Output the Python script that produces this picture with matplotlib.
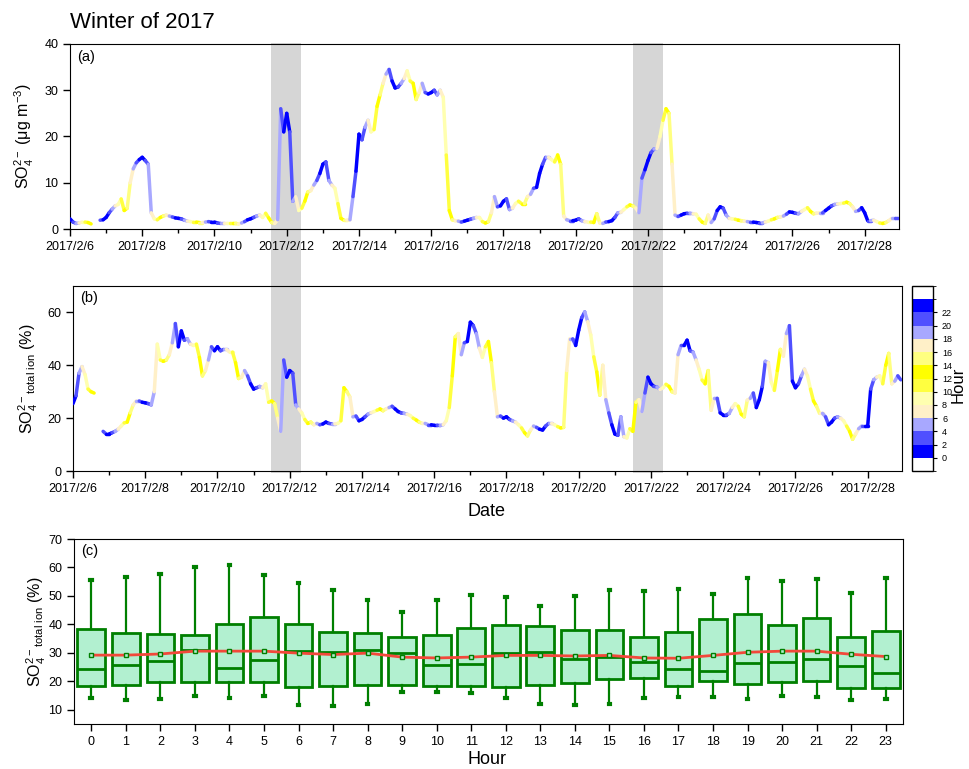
import numpy as np
import pandas as pd
import matplotlib
matplotlib.use('Agg')
import matplotlib.pyplot as plt
import matplotlib.dates as mdates
import matplotlib.cm as cm
from matplotlib.collections import LineCollection
from matplotlib.colors import ListedColormap, BoundaryNorm
from matplotlib.patches import Rectangle
from matplotlib.ticker import FuncFormatter
from matplotlib.transforms import blended_transform_factory

plt.rcParams['font.family'] = ['Liberation Sans', 'DejaVu Sans']
plt.rcParams['mathtext.fontset'] = 'custom'
plt.rcParams['mathtext.rm'] = 'Liberation Sans'
plt.rcParams['mathtext.it'] = 'Liberation Sans:italic'
plt.rcParams['mathtext.bf'] = 'Liberation Sans:bold'

nan = np.nan

# 2-hourly samples, 2017-02-06 00:00 .. 2017-02-28 22:00 (one row per day)
so4_conc = [
    2.2, 1.5, 1.2, 1.3, 1.5, 1.5, 1.4, 1.1, nan, nan, 1.9, 2.0,
    2.5, 3.5, 4.3, 5.0, 5.3, 6.5, 4.0, 4.5, 10.0, 13.0, 14.3, 15.0,
    15.5, 14.8, 14.0, 3.5, 2.2, 2.0, 2.5, 2.8, 3.0, 2.8, 2.6, 2.4,
    2.3, 2.2, 1.9, 1.7, 1.6, 1.5, 1.5, 1.4, 1.4, 1.5, 1.6, 1.5,
    1.5, 1.3, 1.2, 1.2, 1.2, 1.2, 1.2, 1.2, 1.1, 1.3, 1.6, 2.0,
    2.2, 2.5, 2.8, 3.0, 2.5, 3.4, 2.4, 1.4, 1.2, 2.0, 26.0, 21.0,
    25.0, 21.0, 6.0, 7.0, 4.0, 4.5, 6.0, 8.0, 8.3, 9.5, 10.5, 12.0,
    14.0, 14.5, 10.5, 9.5, 8.8, 5.5, 2.3, 1.9, 1.9, 2.0, 7.0, 12.5,
    20.5, 19.3, 22.0, 23.5, 21.0, 21.5, 26.5, 29.0, 31.5, 33.5, 34.5, 32.0,
    30.5, 30.7, 31.5, 32.5, 34.2, 32.0, 31.5, 28.0, 29.5, 31.5, 29.5, 29.2,
    29.5, 30.0, 29.0, 30.0, 28.5, 16.0, 4.0, 2.0, 1.8, 1.7, 1.5, 1.7,
    1.9, 2.1, 2.3, 2.5, 2.5, 1.6, 1.3, 1.6, 3.5, 7.0, 4.8, 5.0,
    6.0, 6.5, 4.2, 4.5, 5.5, 6.0, 5.5, 5.5, 7.0, 7.5, 8.8, 9.0,
    12.0, 14.0, 15.5, 15.5, 15.0, 14.5, 16.0, 14.0, 2.8, 2.0, 1.8, 1.8,
    1.9, 2.2, 1.8, 1.6, 1.5, 1.5, 1.4, 3.3, 1.3, 1.2, 1.5, 1.6,
    1.8, 2.5, 3.5, 3.6, 4.2, 4.8, 5.2, 5.0, 4.5, 3.5, 11.0, 12.8,
    14.8, 16.5, 17.3, 17.4, 20.0, 23.5, 26.0, 25.0, 14.0, 3.0, 2.7, 3.0,
    3.3, 3.4, 3.4, 3.3, 3.2, 2.2, 1.5, 1.2, 3.0, 1.4, 2.2, 4.0,
    4.8, 4.5, 3.0, 2.3, 2.2, 2.1, 1.9, 1.8, 1.7, 1.6, 1.5, 1.5,
    1.4, 1.3, 1.3, 1.5, 1.7, 2.0, 2.2, 2.5, 2.6, 2.8, 3.2, 3.7,
    3.6, 3.4, 3.3, 3.8, 4.2, 4.6, 3.8, 3.3, 3.4, 3.5, 3.5, 4.0,
    4.5, 5.0, 5.3, 5.4, 5.5, 5.6, 5.8, 5.5, 4.8, 3.8, 4.0, 4.6,
    3.5, 1.8, 1.8, 1.9, 1.6, 1.3, 1.2, 1.4, 1.8, 2.3, 2.3, 2.3,
]

so4_frac = [
    25.5, 28.5, 37.0, 39.5, 36.5, 31.0, 30.0, 29.5, nan, nan, 15.0, 14.0,
    14.0, 14.5, 15.0, 15.8, 17.0, 18.2, 18.5, 22.0, 25.0, 26.5, 26.5, 26.0,
    25.8, 25.5, 25.0, 30.0, 48.0, 42.0, 41.5, 42.0, 44.0, 48.5, 55.8, 47.0,
    53.0, 49.5, 50.0, 48.0, 47.5, 48.0, 43.0, 36.0, 38.0, 42.0, 47.0, 45.5,
    47.0, 45.5, 46.0, 46.0, 45.0, 45.0, 41.0, 35.0, 35.5, 38.0, 36.0, 33.0,
    31.0, 31.5, 32.0, 31.5, 33.0, 26.0, 26.5, 25.5, 20.0, 15.0, 42.0, 35.5,
    38.0, 37.0, 25.0, 23.5, 22.0, 19.5, 18.0, 18.5, 17.5, 18.0, 17.5, 17.8,
    18.5, 18.0, 17.8, 17.8, 18.0, 19.0, 31.5, 30.0, 28.0, 20.5, 20.8, 19.0,
    19.5, 20.5, 21.5, 22.0, 22.5, 23.0, 23.5, 22.8, 23.5, 24.0, 24.5, 23.5,
    22.5, 22.0, 21.8, 21.5, 21.0, 20.0, 19.3, 18.5, 18.0, 18.0, 17.5, 17.5,
    17.3, 17.3, 17.2, 17.5, 19.0, 24.0, 36.0, 50.8, 52.0, 44.0, 48.5, 49.0,
    56.3, 55.0, 52.0, 46.5, 43.0, 47.0, 49.0, 41.0, 30.0, 20.5, 20.8, 20.0,
    20.5, 19.5, 19.0, 18.5, 17.5, 16.3, 14.5, 13.3, 15.5, 17.0, 16.5, 15.8,
    15.5, 17.0, 18.0, 18.0, 17.5, 16.8, 16.3, 16.5, 38.0, 50.0, 50.0, 47.5,
    53.3, 58.0, 60.2, 56.5, 51.5, 43.2, 37.5, 28.7, 40.0, 27.0, 22.0, 17.5,
    14.0, 13.5, 20.5, 13.0, 12.5, 16.0, 15.0, 26.0, 27.0, 22.5, 29.5, 35.5,
    33.0, 32.0, 31.8, 30.8, 31.5, 32.8, 32.0, 30.0, 29.5, 44.0, 47.5, 47.5,
    49.5, 45.5, 45.0, 42.0, 38.5, 34.4, 33.0, 38.0, 23.0, 27.5, 27.5, 22.0,
    21.2, 21.2, 21.8, 24.0, 25.5, 24.5, 21.5, 20.5, 26.8, 27.5, 29.5, 24.0,
    27.0, 32.0, 41.5, 41.0, 33.5, 30.5, 38.0, 46.0, 43.5, 52.0, 55.0, 34.0,
    31.5, 33.0, 36.0, 38.5, 36.0, 31.0, 26.5, 24.5, 21.8, 21.8, 20.5, 17.5,
    18.5, 20.0, 20.5, 20.0, 19.0, 17.0, 15.0, 12.0, 14.0, 16.0, 17.0, 17.0,
    17.0, 31.0, 34.5, 35.5, 36.0, 33.0, 40.0, 44.5, 33.0, 34.0, 36.0, 34.5,
]

# diurnal box statistics of the SO4 fraction
hours = np.arange(24)
whisk_lo = [14.1, 13.4, 13.7, 14.7, 14.2, 14.7, 11.8, 11.3, 12.2, 16.2, 16.2, 15.8,
            14.2, 12.2, 11.8, 12.2, 14.1, 14.6, 14.4, 13.9, 15.0, 14.4, 13.5, 13.7]
q1 = [18.4, 18.7, 19.9, 19.9, 19.6, 19.6, 18.0, 18.3, 18.7, 18.8, 18.5, 18.3,
      18.0, 18.8, 19.4, 20.9, 21.1, 18.2, 20.1, 18.9, 19.7, 20.1, 17.8, 17.6]
median = [24.3, 25.9, 27.0, 31.1, 24.6, 27.5, 30.5, 30.4, 31.1, 30.0, 25.9, 26.1,
          29.9, 30.2, 27.8, 28.5, 26.7, 24.4, 23.6, 26.3, 26.7, 28.0, 25.4, 22.9]
q3 = [38.3, 37.1, 36.7, 36.1, 40.2, 42.5, 40.2, 37.4, 37.0, 35.6, 36.2, 38.7,
      39.9, 39.4, 38.2, 38.0, 35.5, 37.3, 41.8, 43.7, 39.9, 42.4, 35.7, 37.6]
whisk_hi = [55.5, 56.5, 57.8, 60.1, 60.9, 57.4, 54.4, 52.0, 48.5, 44.4, 48.5, 50.5,
            49.6, 46.5, 49.8, 52.1, 51.8, 52.6, 50.6, 56.2, 55.3, 56.1, 50.9, 56.2]
mean = [29.2, 29.2, 29.6, 30.6, 30.6, 30.6, 29.9, 29.4, 29.9, 28.5, 28.2, 28.5,
        29.1, 29.1, 28.9, 29.1, 28.2, 28.1, 29.1, 30.2, 30.6, 30.6, 29.5, 28.7]

# hour-of-day colour bands (white outside 0-24)
band_colors = ['#FFFFFF', '#0000FF', '#5050FF', '#A8A8FF', '#FFF0C8', '#FFFFB0',
               '#FFFF40', '#FFFF00', '#FFFF80', '#FFF0C8', '#A8A8FF', '#5050FF',
               '#0000FF', '#FFFFFF']
band_edges = np.arange(-2, 27, 2)
cmap = ListedColormap(band_colors)
norm = BoundaryNorm(band_edges, cmap.N)

times = pd.date_range('2017-02-06', periods=len(so4_conc), freq='2h')
tnum = mdates.date2num(times.to_pydatetime())
t0 = mdates.date2num(pd.Timestamp('2017-02-06').to_pydatetime())


def hour_line(ax, y):
    y = np.asarray(y, dtype=float)
    segs, cols = [], []
    for i in range(len(y) - 1):
        if np.isnan(y[i]) or np.isnan(y[i + 1]):
            continue
        segs.append([(tnum[i], y[i]), (tnum[i + 1], y[i + 1])])
        cols.append(cmap(norm(times[i].hour + 1)))
    ax.add_collection(LineCollection(segs, colors=cols, linewidths=2.5,
                                     capstyle='round', zorder=3))


def date_label(x, pos):
    d = mdates.num2date(x)
    return f'{d.year}/{d.month}/{d.day}'


def style_date_axis(ax):
    ax.set_xlim(t0, t0 + 22.95)
    ax.xaxis.set_major_locator(mdates.DayLocator(bymonthday=list(range(6, 29, 2))))
    ax.xaxis.set_minor_locator(mdates.DayLocator())
    ax.xaxis.set_major_formatter(FuncFormatter(date_label))
    ax.tick_params(which='major', direction='out', length=5, width=1, labelsize=9)
    ax.tick_params(which='minor', direction='out', length=3, width=1)
    ax.set_facecolor('none')


W, H = 969, 769
fig = plt.figure(figsize=(W / 100, H / 100), dpi=100)

ax_a = fig.add_axes([70 / W, 1 - 229 / H, 829 / W, 185 / H])
ax_b = fig.add_axes([73 / W, 1 - 471 / H, 829 / W, 185 / H])
ax_c = fig.add_axes([74 / W, 1 - 724 / H, 829 / W, 185 / H])

# (a) SO4 mass concentration
hour_line(ax_a, so4_conc)
style_date_axis(ax_a)
ax_a.set_ylim(0, 40)
ax_a.set_yticks([0, 10, 20, 30, 40])
ax_a.set_ylabel(r'SO$_4^{2-}$ (μg m$^{-3}$)', fontsize=11.5)
ax_a.yaxis.set_label_coords(-0.041, 0.5)
ax_a.text(0.008, 0.93, '(a)', transform=ax_a.transAxes, va='center', fontsize=10.5)

# (b) SO4 share of total ions
hour_line(ax_b, so4_frac)
style_date_axis(ax_b)
ax_b.set_ylim(0, 70)
ax_b.set_yticks([0, 20, 40, 60])
ax_b.set_ylabel(r'SO$_4^{2-}$$_{\mathrm{total\ ion}}$ (%)', fontsize=11.5)
ax_b.yaxis.set_label_coords(-0.040, 0.5)
ax_b.text(0.008, 0.935, '(b)', transform=ax_b.transAxes, va='center', fontsize=10.5)

# shaded episodes spanning both time-series panels
trans = blended_transform_factory(ax_a.transData, fig.transFigure)
for start, end in [('2017-02-11 13:20', '2017-02-12 09:15'),
                   ('2017-02-21 13:50', '2017-02-22 09:50')]:
    x0 = mdates.date2num(pd.Timestamp(start).to_pydatetime())
    x1 = mdates.date2num(pd.Timestamp(end).to_pydatetime())
    fig.add_artist(Rectangle((x0, 1 - 473 / H), x1 - x0, (473 - 43) / H,
                             transform=trans, facecolor='#D6D6D6',
                             edgecolor='none', zorder=-1))

# hour colour bar
cax = fig.add_axes([912 / W, 1 - 471 / H, 21 / W, 185 / H])
cb = fig.colorbar(cm.ScalarMappable(norm=norm, cmap=cmap), cax=cax,
                  ticks=list(range(0, 24, 2)))
cb.ax.tick_params(labelsize=6.5, length=3, width=0.8)
cb.outline.set_linewidth(1)
fig.text(951 / W, 1 - 385 / H, 'Hour', rotation=90, ha='left', va='center', fontsize=12)

# (c) diurnal box plot
stats = []
for i in range(len(hours)):
    stats.append(dict(med=median[i], q1=q1[i], q3=q3[i], whislo=whisk_lo[i],
                      whishi=whisk_hi[i], mean=mean[i], fliers=[]))
green = '#007F00'
ax_c.bxp(stats, positions=hours, widths=0.8, patch_artist=True, showfliers=False,
         capwidths=0.05,
         boxprops=dict(facecolor='#B2F0D0', edgecolor=green, linewidth=2),
         whiskerprops=dict(color=green, linewidth=1.6),
         capprops=dict(color=green, linewidth=3),
         medianprops=dict(color=green, linewidth=2))
ax_c.plot(hours, mean, color='#F2483A', linewidth=2, zorder=4)
ax_c.plot(hours, mean, 's', markersize=3, markerfacecolor='#B2F0D0',
          markeredgecolor=green, markeredgewidth=1, zorder=5)
ax_c.set_xlim(-0.5, 23.5)
ax_c.set_ylim(5, 70)
ax_c.set_xticks(hours)
ax_c.set_xticklabels([str(h) for h in hours])
ax_c.set_yticks(range(10, 71, 10))
ax_c.tick_params(direction='out', length=5, width=1, labelsize=9)
ax_c.set_ylabel(r'SO$_4^{2-}$$_{\mathrm{total\ ion}}$ (%)', fontsize=11.5)
ax_c.yaxis.set_label_coords(-0.031, 0.5)
ax_c.text(0.008, 0.935, '(c)', transform=ax_c.transAxes, va='center', fontsize=10.5)

fig.text(70 / W, 1 - 22 / H, 'Winter of 2017', va='center', fontsize=16)
fig.text(487 / W, 1 - 512 / H, 'Date', ha='center', va='center', fontsize=13)
fig.text(487 / W, 1 - 760 / H, 'Hour', ha='center', va='center', fontsize=13)

fig.savefig('out.png', dpi=100, facecolor='white')
